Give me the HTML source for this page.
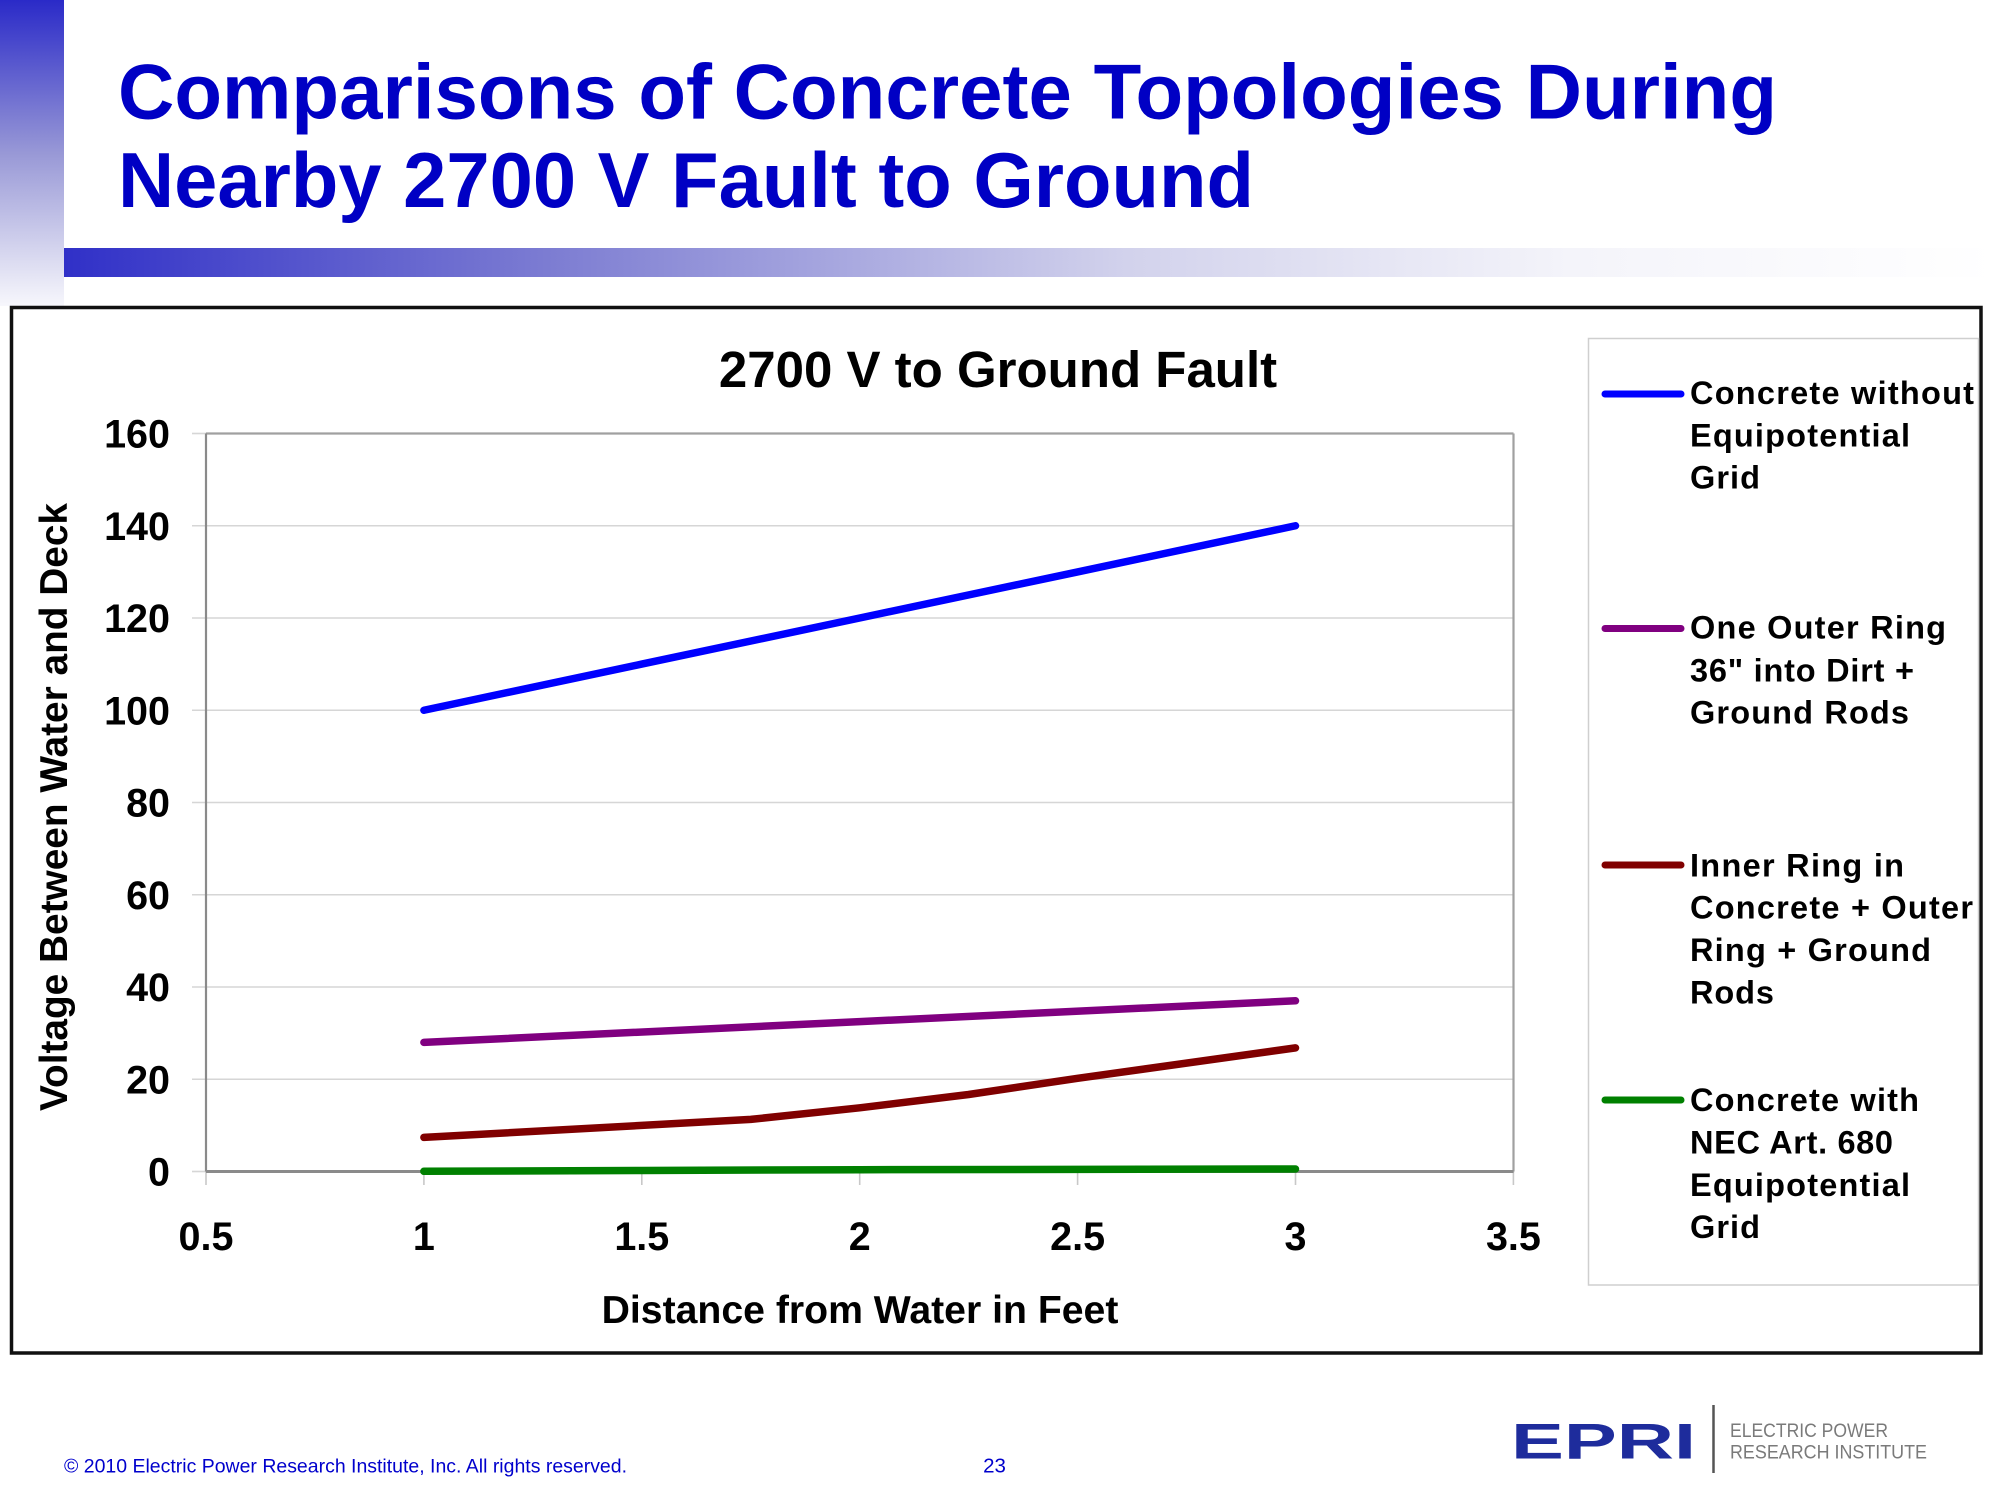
<!DOCTYPE html>
<html>
<head>
<meta charset="utf-8">
<style>
html,body{margin:0;padding:0;background:#ffffff;}
svg{display:block;}
</style>
</head>
<body>
<svg width="1995" height="1495" viewBox="0 0 1995 1495" xmlns="http://www.w3.org/2000/svg" font-family="'Liberation Sans', Arial, sans-serif">
  <defs>
    <linearGradient id="vbar" x1="0" y1="0" x2="0" y2="1">
      <stop offset="0" stop-color="#2a2ac8"/>
      <stop offset="0.5" stop-color="#9898d6"/>
      <stop offset="1" stop-color="#f7f7fc"/>
    </linearGradient>
    <linearGradient id="hbar" x1="0" y1="0" x2="1" y2="0">
      <stop offset="0" stop-color="#3030c8"/>
      <stop offset="0.25" stop-color="#7c7cd2"/>
      <stop offset="0.55" stop-color="#d2d2ec"/>
      <stop offset="0.78" stop-color="#f4f4fa"/>
      <stop offset="1" stop-color="#ffffff"/>
    </linearGradient>
  </defs>

  <rect x="0" y="0" width="1995" height="1495" fill="#ffffff"/>

  <!-- Decorative bars -->
  <rect x="0" y="0" width="64" height="306" fill="url(#vbar)"/>
  <rect x="64" y="248" width="1931" height="29" fill="url(#hbar)"/>

  <!-- Slide title -->
  <text x="118" y="118.5" font-size="77.7" font-weight="bold" fill="#0000c4" textLength="1659" lengthAdjust="spacingAndGlyphs">Comparisons of Concrete Topologies During</text>
  <text x="118" y="207" font-size="77.7" font-weight="bold" fill="#0000c4" textLength="1136" lengthAdjust="spacingAndGlyphs">Nearby 2700 V Fault to Ground</text>

  <!-- Chart outer box -->
  <rect x="11.5" y="307.5" width="1969.5" height="1045.5" fill="#ffffff" stroke="#111111" stroke-width="3.5"/>

  <!-- Chart title -->
  <text x="998" y="387" font-size="51" font-weight="bold" fill="#000" text-anchor="middle">2700 V to Ground Fault</text>

  <!-- Gridlines + y ticks -->
  <g stroke="#d6d6d6" stroke-width="1.6">
    <line x1="192" y1="525.75" x2="1513.5" y2="525.75"/>
    <line x1="192" y1="618" x2="1513.5" y2="618"/>
    <line x1="192" y1="710.25" x2="1513.5" y2="710.25"/>
    <line x1="192" y1="802.5" x2="1513.5" y2="802.5"/>
    <line x1="192" y1="894.75" x2="1513.5" y2="894.75"/>
    <line x1="192" y1="987" x2="1513.5" y2="987"/>
    <line x1="192" y1="1079.25" x2="1513.5" y2="1079.25"/>
    <line x1="192" y1="433.5" x2="206" y2="433.5"/>
    <line x1="192" y1="1171.5" x2="206" y2="1171.5"/>
  </g>
  <!-- x ticks -->
  <g stroke="#c8c8c8" stroke-width="1.6">
    <line x1="206" y1="1171.5" x2="206" y2="1185"/>
    <line x1="423.9" y1="1171.5" x2="423.9" y2="1185"/>
    <line x1="641.8" y1="1171.5" x2="641.8" y2="1185"/>
    <line x1="859.7" y1="1171.5" x2="859.7" y2="1185"/>
    <line x1="1077.6" y1="1171.5" x2="1077.6" y2="1185"/>
    <line x1="1295.5" y1="1171.5" x2="1295.5" y2="1185"/>
    <line x1="1513.4" y1="1171.5" x2="1513.4" y2="1185"/>
  </g>

  <!-- Plot border -->
  <line x1="206" y1="433.5" x2="1513.5" y2="433.5" stroke="#a0a0a0" stroke-width="2.2"/>
  <line x1="1513.5" y1="433.5" x2="1513.5" y2="1171.5" stroke="#a0a0a0" stroke-width="2.2"/>
  <line x1="206" y1="433.5" x2="206" y2="1171.5" stroke="#8a8a8a" stroke-width="2.2"/>
  <line x1="206" y1="1171.5" x2="1513.5" y2="1171.5" stroke="#8a8a8a" stroke-width="3"/>

  <!-- Y tick labels -->
  <g font-size="39.5" font-weight="bold" fill="#000" text-anchor="end">
    <text x="170" y="447.5">160</text>
    <text x="170" y="539.75">140</text>
    <text x="170" y="632">120</text>
    <text x="170" y="724.25">100</text>
    <text x="170" y="816.5">80</text>
    <text x="170" y="908.75">60</text>
    <text x="170" y="1001">40</text>
    <text x="170" y="1093.25">20</text>
    <text x="170" y="1185.5">0</text>
  </g>

  <!-- X tick labels -->
  <g font-size="39.5" font-weight="bold" fill="#000" text-anchor="middle">
    <text x="206" y="1250">0.5</text>
    <text x="423.9" y="1250">1</text>
    <text x="641.8" y="1250">1.5</text>
    <text x="859.7" y="1250">2</text>
    <text x="1077.6" y="1250">2.5</text>
    <text x="1295.5" y="1250">3</text>
    <text x="1513.4" y="1250">3.5</text>
  </g>

  <!-- Axis titles -->
  <text x="860" y="1323" font-size="39.2" font-weight="bold" fill="#000" text-anchor="middle">Distance from Water in Feet</text>
  <text transform="translate(67,807) rotate(-90)" x="0" y="0" font-size="38.8" font-weight="bold" fill="#000" text-anchor="middle">Voltage Between Water and Deck</text>

  <!-- Series -->
  <g fill="none" stroke-width="7.5" stroke-linecap="round" stroke-linejoin="round">
    <polyline stroke="#0000ff" points="423.9,710.25 641.8,664.1 859.7,618 1077.6,571.9 1295.5,525.75"/>
    <polyline stroke="#800080" points="423.9,1042.4 859.7,1021.6 1295.5,1000.8"/>
    <polyline stroke="#800000" points="423.9,1137.4 750.75,1119.4 859.7,1107.8 968.6,1094.5 1077.6,1078.3 1295.5,1047.9"/>
    <polyline stroke="#008000" points="423.9,1171.3 641.8,1170.5 859.7,1169.7 1295.5,1169"/>
  </g>

  <!-- Legend -->
  <rect x="1588.5" y="338.5" width="390" height="946.5" fill="#ffffff" stroke="#cfcfcf" stroke-width="1.5"/>
  <g stroke-width="7" stroke-linecap="round">
    <line x1="1605" y1="394" x2="1681" y2="394" stroke="#0000ff"/>
    <line x1="1605" y1="628.5" x2="1681" y2="628.5" stroke="#800080"/>
    <line x1="1605" y1="865" x2="1681" y2="865" stroke="#800000"/>
    <line x1="1605" y1="1100" x2="1681" y2="1100" stroke="#008000"/>
  </g>
  <g font-size="32.5" font-weight="bold" fill="#000">
    <text x="1690" y="404" textLength="284" lengthAdjust="spacing">Concrete without</text>
    <text x="1690" y="446.5" textLength="220" lengthAdjust="spacing">Equipotential</text>
    <text x="1690" y="488.5" textLength="70" lengthAdjust="spacing">Grid</text>

    <text x="1690" y="638.5" textLength="256" lengthAdjust="spacing">One Outer Ring</text>
    <text x="1690" y="681.5" textLength="224" lengthAdjust="spacing">36" into Dirt +</text>
    <text x="1690" y="723.5" textLength="219" lengthAdjust="spacing">Ground Rods</text>

    <text x="1690" y="876.5" textLength="214" lengthAdjust="spacing">Inner Ring in</text>
    <text x="1690" y="918.5" textLength="283" lengthAdjust="spacing">Concrete + Outer</text>
    <text x="1690" y="961" textLength="241" lengthAdjust="spacing">Ring + Ground</text>
    <text x="1690" y="1003.5" textLength="84" lengthAdjust="spacing">Rods</text>

    <text x="1690" y="1111" textLength="229" lengthAdjust="spacing">Concrete with</text>
    <text x="1690" y="1153.5" textLength="203" lengthAdjust="spacing">NEC Art. 680</text>
    <text x="1690" y="1196" textLength="220" lengthAdjust="spacing">Equipotential</text>
    <text x="1690" y="1238" textLength="70" lengthAdjust="spacing">Grid</text>
  </g>

  <!-- Footer -->
  <text x="64" y="1472.5" font-size="19.4" fill="#0000cc" textLength="563" lengthAdjust="spacingAndGlyphs">© 2010 Electric Power Research Institute, Inc. All rights reserved.</text>
  <text x="994.5" y="1472.5" font-size="20.5" fill="#0000cc" text-anchor="middle">23</text>

  <!-- EPRI logo -->
  <text x="1511" y="1458.5" font-size="50" font-weight="bold" fill="#1e2c9c" textLength="185" lengthAdjust="spacingAndGlyphs">EPRI</text>
  <line x1="1713.5" y1="1405" x2="1713.5" y2="1473" stroke="#555555" stroke-width="2.5"/>
  <text x="1730" y="1437" font-size="19" fill="#7a7a7a" textLength="158" lengthAdjust="spacingAndGlyphs">ELECTRIC POWER</text>
  <text x="1730" y="1458.5" font-size="19" fill="#7a7a7a" textLength="197" lengthAdjust="spacingAndGlyphs">RESEARCH INSTITUTE</text>
</svg>
</body>
</html>
